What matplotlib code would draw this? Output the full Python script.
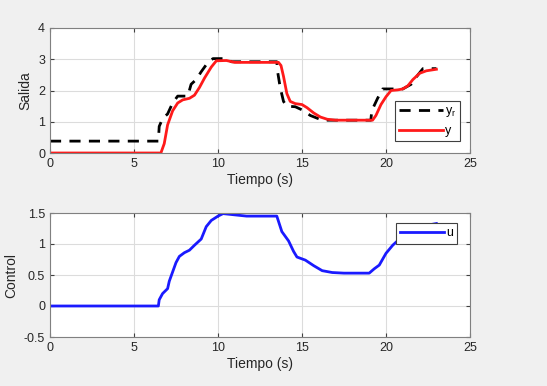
import numpy as np
import matplotlib
matplotlib.use('Agg')
import matplotlib.pyplot as plt

plt.rcParams['font.family'] = ['Liberation Sans', 'DejaVu Sans']

# reference yr (dashed)
t_ref = [0, 6.45, 6.5, 6.7, 7.0, 7.3, 7.6, 8.2, 8.4, 8.7, 9.0, 9.4, 9.7, 10.5, 10.8,
         13.5, 13.55, 13.7, 13.9, 14.1, 14.6, 15.0, 15.5, 16.2, 19.1, 19.15, 19.5, 19.8,
         21.0, 21.5, 21.9, 22.2, 23.0]
yr = [0.38, 0.38, 0.85, 1.1, 1.25, 1.6, 1.82, 1.82, 2.2, 2.35, 2.6, 2.9, 3.02, 3.02, 2.92,
      2.92, 2.6, 2.1, 1.65, 1.5, 1.48, 1.38, 1.2, 1.05, 1.05, 1.35, 1.75, 2.05,
      2.05, 2.2, 2.5, 2.7, 2.7]

# output y
t_y = [0, 6.6, 6.8, 7.0, 7.3, 7.6, 7.9, 8.3, 8.6, 8.9, 9.2, 9.6, 9.9, 10.5, 11.0,
       13.6, 13.75, 13.9, 14.1, 14.3, 14.6, 15.0, 15.3, 15.7, 16.1, 16.5, 17.0,
       19.2, 19.4, 19.7, 20.0, 20.3, 20.7, 21.0, 21.3, 21.6, 22.0, 22.4, 23.0]
y = [0, 0, 0.3, 0.9, 1.35, 1.6, 1.7, 1.75, 1.85, 2.1, 2.4, 2.75, 2.95, 2.96, 2.9,
     2.9, 2.8, 2.45, 1.9, 1.65, 1.58, 1.55, 1.45, 1.28, 1.15, 1.08, 1.05,
     1.05, 1.2, 1.55, 1.8, 2.0, 2.02, 2.05, 2.15, 2.35, 2.55, 2.63, 2.68]

# control u
t_u = [0, 6.45, 6.5, 6.7, 7.0, 7.1, 7.3, 7.5, 7.7, 8.0, 8.3, 8.6, 9.0, 9.3, 9.6, 10.0,
       10.3, 11.0, 11.7, 13.5, 13.8, 14.2, 14.5, 14.7, 15.2, 15.7, 16.2, 16.8, 17.5,
       19.0, 19.3, 19.6, 20.0, 20.4, 20.8, 21.3, 21.8, 22.4, 23.0]
u = [0, 0, 0.1, 0.2, 0.28, 0.4, 0.55, 0.7, 0.8, 0.86, 0.9, 0.98, 1.08, 1.28, 1.38, 1.45,
     1.49, 1.47, 1.45, 1.45, 1.2, 1.05, 0.88, 0.79, 0.74, 0.65, 0.57, 0.54, 0.53,
     0.53, 0.6, 0.66, 0.85, 0.98, 1.08, 1.17, 1.24, 1.3, 1.33]

grey = '#f0f0f0'
axc = '#404040'
fig = plt.figure(figsize=(5.47, 3.86), dpi=100, facecolor=grey)
ax1 = fig.add_axes([50/547, 1-153/386, 420/547, 125/386])
ax2 = fig.add_axes([50/547, 1-337/386, 420/547, 124/386])

for ax in (ax1, ax2):
    ax.set_facecolor('white')
    ax.grid(True, color='#dcdcdc', linewidth=0.8)
    ax.set_axisbelow(True)
    ax.tick_params(direction='in', top=True, right=True, length=3, colors=axc,
                   labelsize=9, labelcolor='#262626')
    for s in ax.spines.values():
        s.set_color('#808080')
        s.set_linewidth(0.8)
    ax.set_xlim(0, 25)
    ax.set_xticks([0, 5, 10, 15, 20, 25])
    ax.set_xlabel('Tiempo (s)', fontsize=10, color='#262626', labelpad=2)

ax1.plot(t_ref, yr, '--', color='black', linewidth=2, dashes=(4, 3), label='$\\mathregular{y_r}$')
ax1.plot(t_y, y, '-', color='#ff1a1a', linewidth=2, label='y')
ax1.set_ylim(0, 4)
ax1.set_yticks([0, 1, 2, 3, 4])
ax1.set_ylabel('Salida', fontsize=10, color='#262626', labelpad=4)
leg1 = ax1.legend(loc='upper left', bbox_to_anchor=(0.821, 0.416), borderaxespad=0,
                  fontsize=9, frameon=True, fancybox=False, edgecolor='#404040',
                  handlelength=3.5, borderpad=0.35, labelspacing=0.45,
                  handletextpad=0.15, framealpha=1)
leg1.get_frame().set_linewidth(0.8)

ax2.plot(t_u, u, '-', color='#1a1aff', linewidth=2, label='u')
ax2.set_ylim(-0.5, 1.5)
ax2.set_yticks([-0.5, 0, 0.5, 1, 1.5])
ax2.set_yticklabels(['-0.5', '0', '0.5', '1', '1.5'])
ax2.set_ylabel('Control', fontsize=10, color='#262626', labelpad=4)
leg2 = ax2.legend(loc='upper left', bbox_to_anchor=(0.824, 0.919), borderaxespad=0,
                  fontsize=9, frameon=True, fancybox=False, edgecolor='#404040',
                  handlelength=3.5, borderpad=0.35, handletextpad=0.15, framealpha=1)
leg2.get_frame().set_linewidth(0.8)

fig.savefig('out.png', dpi=100, facecolor=grey)
